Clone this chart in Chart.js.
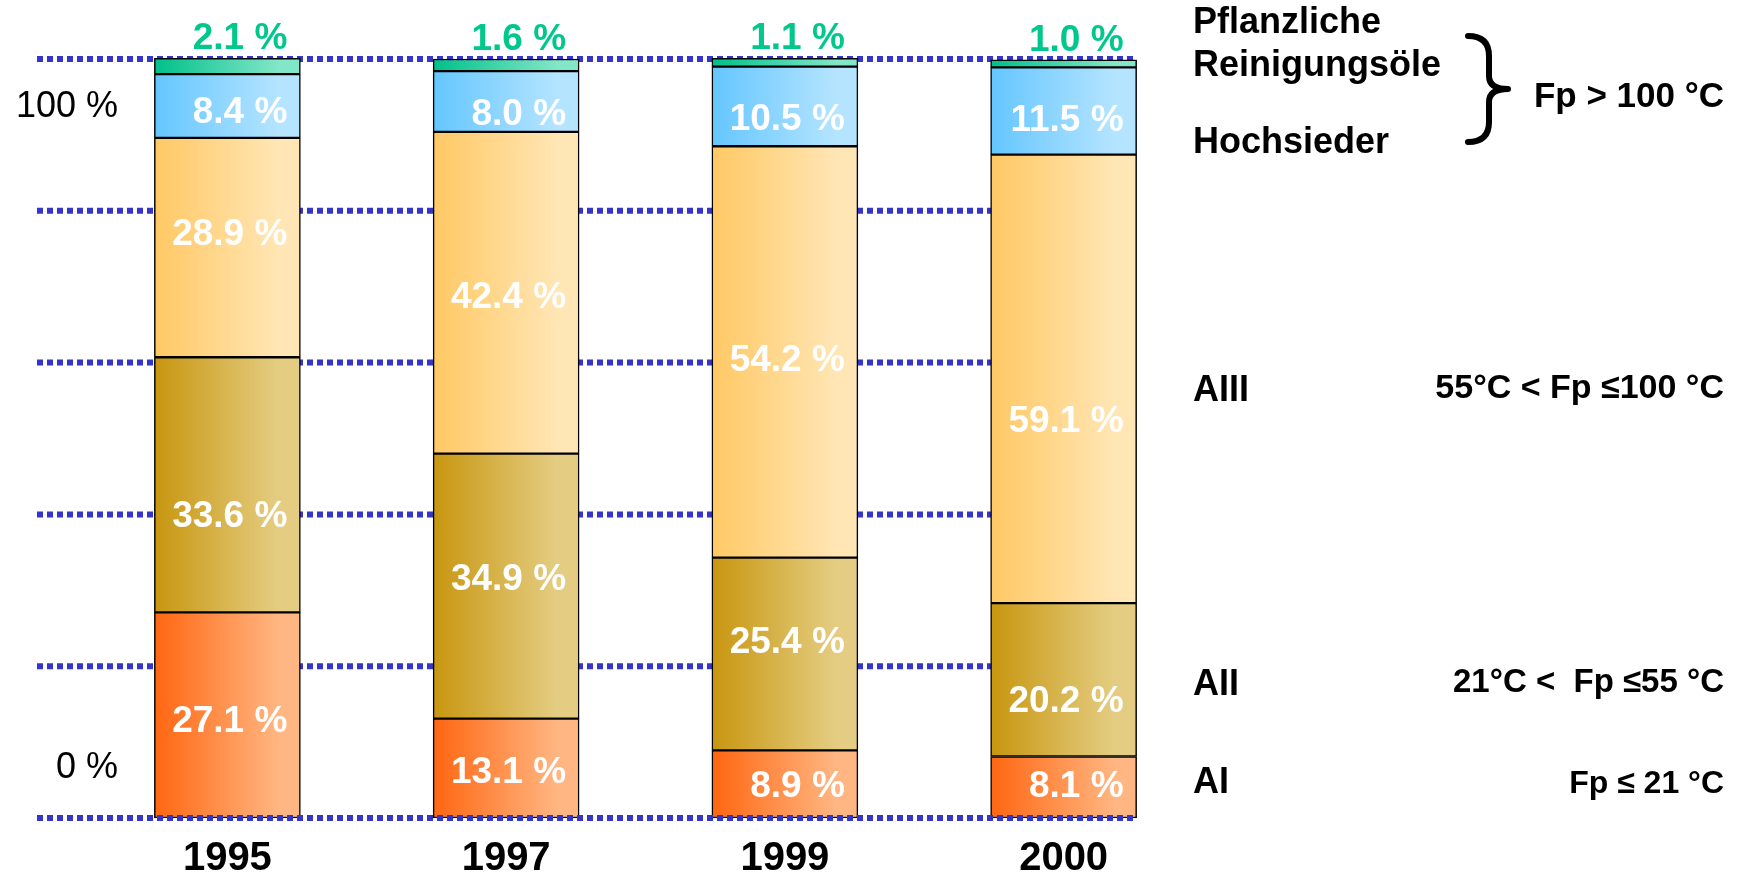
<!DOCTYPE html>
<html>
<head>
<meta charset="utf-8">
<script src="https://cdn.jsdelivr.net/npm/chart.js@4.4.1/dist/chart.umd.min.js"></script>
<style>
  html, body { margin: 0; padding: 0; background: #fff; }
  canvas { display: block; }
</style>
</head>
<body>
<canvas id="chart" width="1740" height="878"></canvas>
<script>
const years = ["1995", "1997", "1999", "2000"]

// share of each flash point class in %, stacked bottom to top
const ai = [27.1, 13.1, 8.9, 8.1]
const aii = [33.6, 34.9, 25.4, 20.2]
const aiii = [28.9, 42.4, 54.2, 59.1]
const hochsieder = [8.4, 8.0, 10.5, 11.5]
const pflanzlich = [2.1, 1.6, 1.1, 1.0]

// free-standing axis notes (value on the y scale where the text sits)
const axisNotes = [
  { text: "100 %", at: 93.7 },
  { text: "0 %", at: 6.6 },
]

const classNames = [
  { text: "Pflanzliche", y: 23 },
  { text: "Reinigungsöle", y: 66 },
  { text: "Hochsieder", y: 143 },
  { text: "AIII", y: 391 },
  { text: "AII", y: 685 },
  { text: "AI", y: 783 },
]

const flashRanges = [
  { text: "Fp > 100 °C", y: 97, size: 35 },
  { text: "55°C < Fp ≤100 °C", y: 389, size: 34 },
  { text: "21°C <  Fp ≤55 °C", y: 683, size: 33 },
  { text: "Fp ≤ 21 °C", y: 784, size: 32 },
]

// vertical nudge (px) of the value labels off the segment centre, like the slide
const labelShift = [
  [4, 2, 0, -3],      // AI
  [29, -9, -14, 19],  // AII
  [-16, 2, 6, 40],    // AIII
  [4, 10, 11, 7],     // Hochsieder
]

const BAR_W = 146
const FONT = '"Liberation Sans", Arial, sans-serif'
const GRID_COLOR = "rgb(53, 53, 200)"
const GREEN_TEXT = "rgb(0, 200, 140)"
const GRID_START = 37

const SEGMENTS = [
  { label: "AI", data: ai, from: "rgb(255, 102, 17)", to: "rgb(255, 182, 130)" },
  { label: "AII", data: aii, from: "rgb(200, 150, 15)", to: "rgb(228, 205, 130)" },
  { label: "AIII", data: aiii, from: "rgb(255, 200, 100)", to: "rgb(255, 230, 180)" },
  { label: "Hochsieder", data: hochsieder, from: "rgb(100, 198, 255)", to: "rgb(180, 228, 255)" },
  { label: "Pflanzliche Reinigungsöle", data: pflanzlich, from: "rgb(0, 192, 138)", to: "rgb(130, 230, 200)" },
]

function barGradient(from, to) {
  return (ctx) => {
    const chart = ctx.chart
    const x = chart.scales.x
    if (!chart.chartArea || !x || ctx.dataIndex == null) return from
    const cx = x.getPixelForValue(ctx.dataIndex)
    const g = chart.ctx.createLinearGradient(cx - BAR_W / 2, 0, cx + BAR_W / 2, 0)
    g.addColorStop(0, from)
    g.addColorStop(0.85, to)
    g.addColorStop(1, to)
    return g
  }
}

function dottedLine(chart, value) {
  const { ctx } = chart
  const y = chart.scales.y.getPixelForValue(value)
  const xs = chart.scales.x
  const end = xs.getPixelForValue(years.length - 1) + BAR_W / 2
  ctx.save()
  ctx.strokeStyle = GRID_COLOR
  ctx.lineWidth = 6
  ctx.setLineDash([6, 4])
  ctx.beginPath()
  ctx.moveTo(GRID_START, y)
  ctx.lineTo(end, y)
  ctx.stroke()
  ctx.restore()
}

// blue dotted grid: behind the bars, except the 0 % line which sits on top
const dottedGrid = {
  id: "dottedGrid",
  beforeDatasetsDraw(chart) {
    chart.scales.y.ticks.forEach(t => {
      if (t.value > 0) dottedLine(chart, t.value)
    })
  },
  afterDatasetsDraw(chart) {
    dottedLine(chart, 0)
  }
}

const barLabels = {
  id: "barLabels",
  afterDatasetsDraw(chart) {
    const { ctx } = chart
    const last = chart.data.datasets.length - 1
    ctx.save()
    ctx.font = `bold 37px ${FONT}`
    ctx.textAlign = "right"
    ctx.textBaseline = "alphabetic"
    chart.data.datasets.forEach((ds, di) => {
      chart.getDatasetMeta(di).data.forEach((bar, i) => {
        const text = ds.data[i].toFixed(1) + " %"
        const right = bar.x + bar.width / 2 - 13
        if (di === last) {
          ctx.fillStyle = GREEN_TEXT
          ctx.fillText(text, right, bar.y - 9)
        } else {
          ctx.fillStyle = "#fff"
          const shift = (labelShift[di] || [])[i] || 0
          ctx.fillText(text, right, (bar.y + bar.base) / 2 + 13 + shift)
        }
      })
    })
    ctx.restore()
  }
}

const sideText = {
  id: "sideText",
  afterDraw(chart) {
    const { ctx } = chart
    const ys = chart.scales.y
    ctx.save()
    ctx.fillStyle = "#000"
    ctx.textBaseline = "middle"

    ctx.font = `36px ${FONT}`
    ctx.textAlign = "right"
    axisNotes.forEach(n => ctx.fillText(n.text, 118, ys.getPixelForValue(n.at)))

    ctx.font = `bold 36px ${FONT}`
    ctx.textAlign = "left"
    classNames.forEach(n => ctx.fillText(n.text, 1193, n.y))

    ctx.textAlign = "right"
    flashRanges.forEach(n => {
      ctx.font = `bold ${n.size}px ${FONT}`
      ctx.fillText(n.text, 1724, n.y)
    })

    // curly brace grouping the two high boilers
    ctx.strokeStyle = "#000"
    ctx.lineWidth = 6
    ctx.lineCap = "round"
    ctx.lineJoin = "round"
    ctx.beginPath()
    ctx.moveTo(1468, 36)
    ctx.quadraticCurveTo(1489, 36, 1489, 56)
    ctx.lineTo(1489, 76)
    ctx.quadraticCurveTo(1489, 89, 1508, 89)
    ctx.quadraticCurveTo(1489, 89, 1489, 102)
    ctx.lineTo(1489, 122)
    ctx.quadraticCurveTo(1489, 142, 1468, 142)
    ctx.stroke()
    ctx.restore()
  }
}

const datasets = SEGMENTS.map(s => ({
  label: s.label,
  data: s.data,
  backgroundColor: barGradient(s.from, s.to),
  borderColor: "#000",
  borderWidth: 1.5,
  borderSkipped: false,
  barThickness: BAR_W,
  clip: false,
}))

new Chart(document.getElementById("chart"), {
  type: "bar",
  data: { labels: years, datasets },
  plugins: [dottedGrid, barLabels, sideText],
  options: {
    responsive: false,
    animation: false,
    devicePixelRatio: 1,
    layout: {
      padding: { left: 88, right: 537, top: 59, bottom: -22 }
    },
    plugins: {
      legend: { display: false },
      tooltip: { enabled: false },
    },
    scales: {
      x: {
        stacked: true,
        grid: { display: false, drawTicks: false },
        border: { display: false },
        ticks: {
          color: "#000",
          padding: 21,
          font: { family: FONT, size: 40, weight: "bold", lineHeight: 1 },
        },
      },
      y: {
        stacked: true,
        display: false,
        min: 0,
        max: 100,
        ticks: { stepSize: 20 },
      },
    },
  },
})
</script>
</body>
</html>
